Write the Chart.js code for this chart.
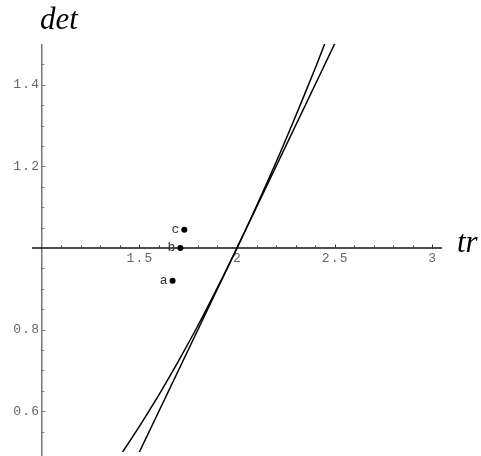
<!DOCTYPE html>
<html>
<head>
<meta charset="utf-8">
<script src="https://cdn.jsdelivr.net/npm/chart.js@4/dist/chart.umd.min.js"></script>
<style>
  html, body { margin: 0; padding: 0; background: #fff; }
  canvas { display: block; }
</style>
</head>
<body>
<canvas id="grafico" width="481" height="456"></canvas>
<script>
// values
const lineTr  = [1.5, 2.5];
const lineDet = [0.5, 1.5];
const curveTr  = [1.414, 1.45, 1.5, 1.55, 1.6, 1.7, 1.8, 1.9, 2.0, 2.1, 2.2, 2.3, 2.4, 2.449];
const curveDet = [0.5, 0.526, 0.563, 0.601, 0.64, 0.723, 0.81, 0.903, 1.0, 1.103, 1.21, 1.323, 1.44, 1.5];
const ptNames = ['a', 'b', 'c'];
const ptTr  = [1.67, 1.71, 1.73];
const ptDet = [0.92, 1.0, 1.045];
const xTicks = [1.5, 2, 2.5, 3];
const xTickLabels = ['1.5', '2', '2.5', '3'];
const yTicks = [0.6, 0.8, 1.2, 1.4];
const yTickLabels = ['0.6', '0.8', '1.2', '1.4'];

const toXY = (xs, ys) => xs.map((x, i) => ({ x, y: ys[i] }));
const monoFont = '13px "Liberation Mono", "DejaVu Sans Mono", monospace';

// axes cross at (1, 1), drawn by hand through the scales
const axesPlugin = {
  id: 'axes',
  beforeDatasetsDraw(chart) {
    const { ctx } = chart;
    const sx = chart.scales.x, sy = chart.scales.y;
    const ox = sx.getPixelForValue(1), oy = sy.getPixelForValue(1);
    ctx.save();

    // y axis
    ctx.strokeStyle = '#777'; ctx.lineWidth = 1.5;
    ctx.beginPath(); ctx.moveTo(ox, sy.top); ctx.lineTo(ox, chart.height); ctx.stroke();
    ctx.lineWidth = 1;
    for (let v = 0.55; v < 1.5; v += 0.05) {
      if (Math.abs(v - 1) < 1e-6) continue;
      const py = Math.round(sy.getPixelForValue(v)) + 0.5;
      const major = yTicks.some(t => Math.abs(t - v) < 1e-6);
      ctx.beginPath(); ctx.moveTo(ox, py); ctx.lineTo(ox + (major ? 3.5 : 2.5), py); ctx.stroke();
    }

    // x axis
    ctx.strokeStyle = '#111'; ctx.lineWidth = 1.6;
    ctx.beginPath(); ctx.moveTo(sx.left, oy); ctx.lineTo(sx.right, oy); ctx.stroke();
    ctx.lineWidth = 1; ctx.strokeStyle = '#333';
    for (let v = 1.1; v < 3.01; v += 0.1) {
      const px = Math.round(sx.getPixelForValue(v)) + 0.5;
      const major = xTicks.some(t => Math.abs(t - v) < 1e-6);
      ctx.beginPath(); ctx.moveTo(px, oy); ctx.lineTo(px, oy - (major ? 3.5 : 2.5)); ctx.stroke();
    }

    // tick labels
    ctx.fillStyle = '#666';
    ctx.font = monoFont;
    ctx.letterSpacing = '1.2px';
    ctx.textAlign = 'center'; ctx.textBaseline = 'top';
    xTicks.forEach((v, i) => ctx.fillText(xTickLabels[i], sx.getPixelForValue(v) + 0.6, oy + 4));
    ctx.textAlign = 'right'; ctx.textBaseline = 'middle';
    yTicks.forEach((v, i) => ctx.fillText(yTickLabels[i], ox - 1.5, sy.getPixelForValue(v)));
    ctx.letterSpacing = '0px';

    // axis names
    ctx.fillStyle = '#000';
    ctx.font = 'italic 31px "Liberation Serif", "DejaVu Serif", serif';
    ctx.textAlign = 'center'; ctx.textBaseline = 'alphabetic';
    ctx.fillText('det', 59, 29);
    ctx.textAlign = 'left';
    ctx.fillText('tr', 457, oy + 4);
    ctx.restore();
  },
  afterDatasetsDraw(chart) {
    const { ctx } = chart;
    const meta = chart.getDatasetMeta(2);
    ctx.save();
    ctx.fillStyle = '#333';
    ctx.font = monoFont;
    ctx.textAlign = 'right'; ctx.textBaseline = 'middle';
    meta.data.forEach((pt, i) => ctx.fillText(ptNames[i], pt.x - 5, pt.y));
    ctx.restore();
  }
};

const ctx = document.getElementById('grafico').getContext('2d');
new Chart(ctx, {
  type: 'scatter',
  data: {
    datasets: [
      {
        label: 'det = tr - 1',
        data: toXY(lineTr, lineDet),
        showLine: true,
        borderColor: '#000',
        borderWidth: 1.5,
        pointRadius: 0
      },
      {
        label: 'det = tr^2/4',
        data: toXY(curveTr, curveDet),
        showLine: true,
        borderColor: '#000',
        borderWidth: 1.5,
        tension: 0.3,
        pointRadius: 0
      },
      {
        label: 'points',
        data: toXY(ptTr, ptDet),
        backgroundColor: '#000',
        borderColor: '#000',
        pointRadius: 3,
        borderWidth: 0
      }
    ]
  },
  options: {
    responsive: false,
    animation: false,
    layout: { padding: { top: 44, bottom: 2, left: 32, right: 39 } },
    plugins: { legend: { display: false }, tooltip: { enabled: false } },
    scales: {
      x: { type: 'linear', min: 0.95, max: 3.05, display: false },
      y: { type: 'linear', min: 0.5, max: 1.5, display: false }
    }
  },
  plugins: [axesPlugin]
});
</script>
</body>
</html>
